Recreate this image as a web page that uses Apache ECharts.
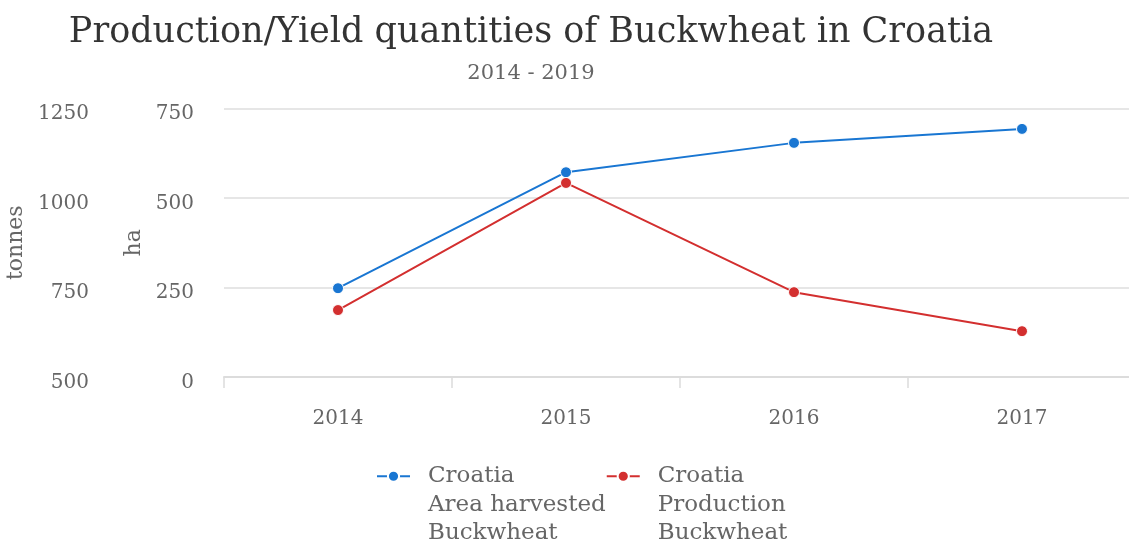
<!DOCTYPE html>
<html>
<head>
<meta charset="utf-8">
<script src="https://cdn.jsdelivr.net/npm/echarts@6/dist/echarts.min.js"></script>
<style>html,body{margin:0;padding:0;background:#fff;overflow:hidden}#c{width:1140px;height:545px}</style>
</head>
<body>
<div id="c"></div>
<script>
const years = ['2014', '2015', '2016', '2017'];
const areaHarvested = [248, 572, 654, 693];       // ha
const production = [687, 1042, 737, 628];          // tonnes
const haTicks = {min: 0, max: 750, interval: 250};
const tonnesTicks = {min: 500, max: 1250, interval: 250};
const seriesNames = ['Croatia\nArea harvested\nBuckwheat', 'Croatia\nProduction\nBuckwheat'];
const colors = ['#1976d2', '#d32f2f'];

const FONT = 'DejaVu Serif';
const chart = echarts.init(document.getElementById('c'));
chart.setOption({
  animation: false,
  textStyle: {fontFamily: FONT},
  title: {
    text: 'Production/Yield quantities of Buckwheat in Croatia',
    subtext: '2014 - 2019',
    left: 526, top: 10, textAlign: 'center',
    textStyle: {fontFamily: FONT, fontSize: 35, fontWeight: 'normal', color: '#333'},
    subtextStyle: {fontFamily: FONT, fontSize: 21, color: '#666'},
    itemGap: 13
  },
  grid: {left: 224, top: 108.5, width: 912, height: 268.5, containLabel: false, outerBoundsMode: 'none'},
  legend: {
    left: 376, top: 405, padding: 0,
    itemWidth: 33, itemHeight: 14, itemGap: 0,
    formatter: name => '\n\n' + name,
    textStyle: {fontFamily: FONT, fontSize: 23, color: '#666', lineHeight: 28.5, padding: [0, 0, 0, 13]},
    data: seriesNames
  },
  xAxis: {
    type: 'category', data: years, boundaryGap: true,
    axisLine: {lineStyle: {color: '#dcdcdc', width: 2}},
    axisTick: {show: true, length: 11, lineStyle: {color: '#dcdcdc', width: 1.5}},
    axisLabel: {fontFamily: FONT, fontSize: 20, color: '#666', margin: 32},
    splitLine: {show: false}
  },
  yAxis: [
    {
      type: 'value', position: 'left', name: 'ha', nameLocation: 'middle', nameGap: 70,
      nameTextStyle: {fontFamily: FONT, fontSize: 22, color: '#666'},
      min: haTicks.min, max: haTicks.max, interval: haTicks.interval,
      axisLine: {show: false}, axisTick: {show: false},
      axisLabel: {fontFamily: FONT, fontSize: 20, color: '#666', margin: 30, verticalAlign: 'top', lineHeight: 5, padding: [3, 0, 0, 0]},
      splitLine: {show: true, lineStyle: {color: '#e6e6e6', width: 2}}
    },
    {
      type: 'value', position: 'left', offset: 105, name: 'tonnes', nameLocation: 'middle', nameGap: 79,
      nameTextStyle: {fontFamily: FONT, fontSize: 22, color: '#666'},
      min: tonnesTicks.min, max: tonnesTicks.max, interval: tonnesTicks.interval,
      axisLine: {show: false}, axisTick: {show: false},
      axisLabel: {fontFamily: FONT, fontSize: 20, color: '#666', margin: 30, verticalAlign: 'top', lineHeight: 5, padding: [3, 0, 0, 0],
        formatter: v => String(v)},
      splitLine: {show: false}
    }
  ],
  series: [
    {
      name: seriesNames[0], type: 'line', yAxisIndex: 0, data: areaHarvested,
      symbol: 'circle', symbolSize: 11,
      lineStyle: {color: colors[0], width: 2},
      itemStyle: {color: colors[0], borderColor: '#fff', borderWidth: 1}
    },
    {
      name: seriesNames[1], type: 'line', yAxisIndex: 1, data: production,
      symbol: 'circle', symbolSize: 11,
      lineStyle: {color: colors[1], width: 2},
      itemStyle: {color: colors[1], borderColor: '#fff', borderWidth: 1}
    }
  ]
});
</script>
</body>
</html>
